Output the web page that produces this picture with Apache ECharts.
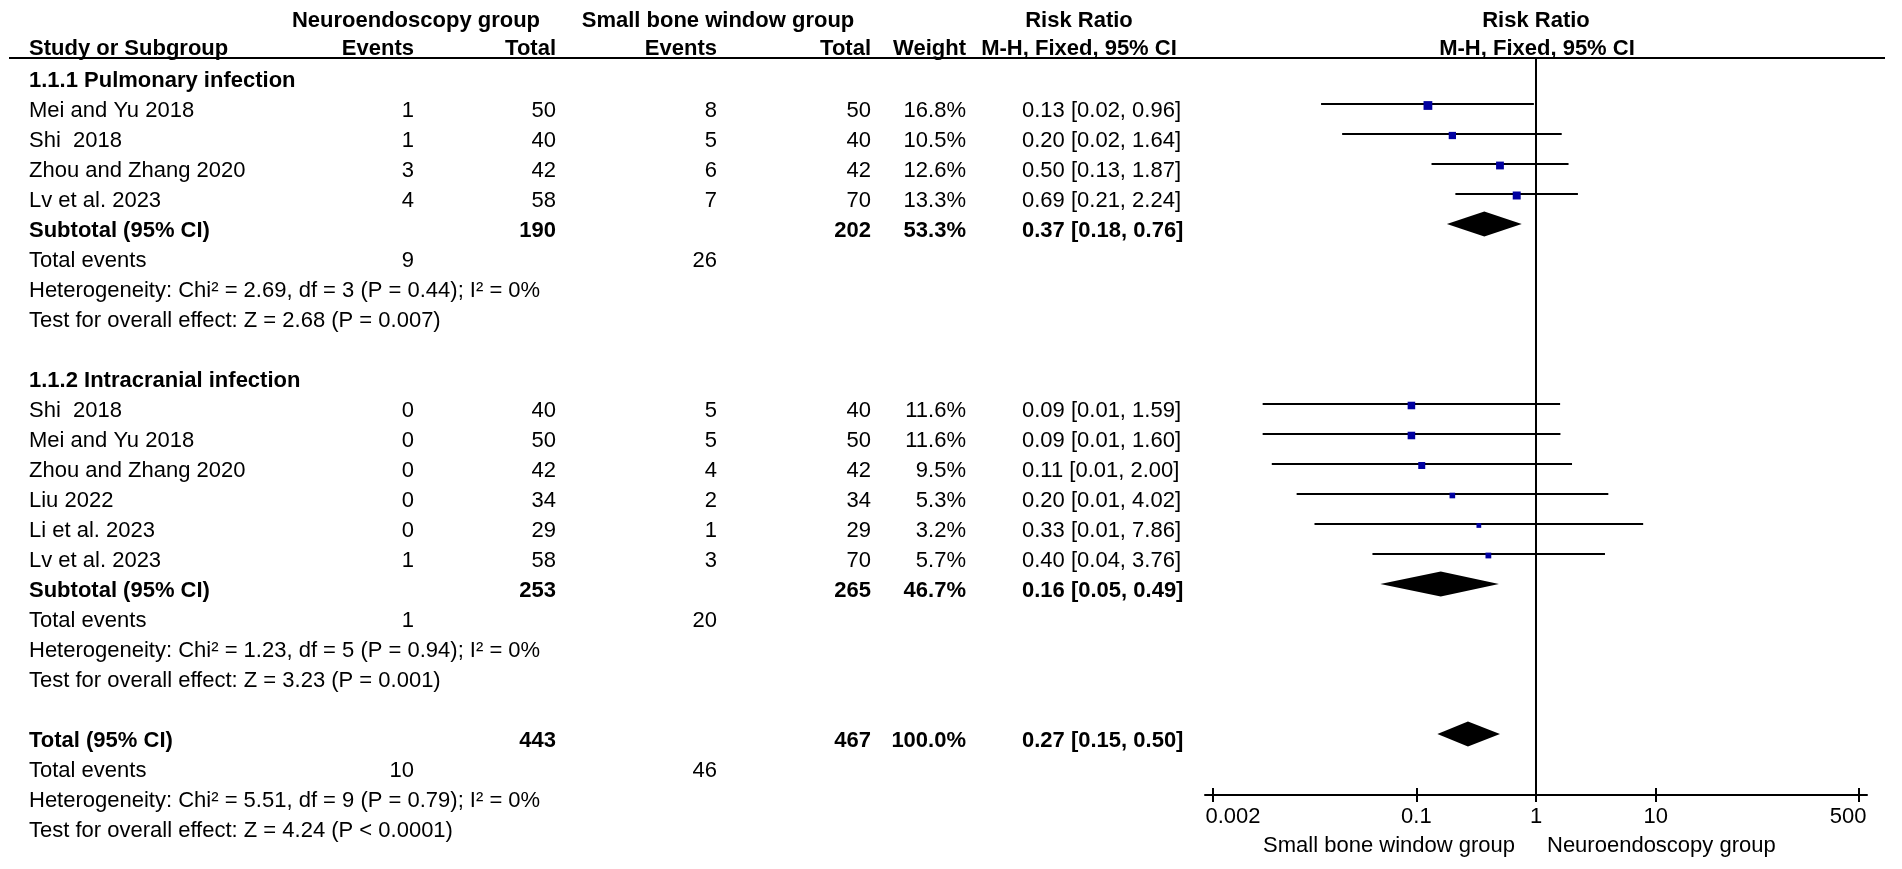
<!DOCTYPE html>
<html><head><meta charset="utf-8">
<script src="https://cdn.jsdelivr.net/npm/echarts@6/dist/echarts.min.js"></script>
<style>html,body{margin:0;padding:0;background:#fff}#c{width:1902px;height:869px}</style>
</head><body><div id="c"></div>
<script>
// ---------------- data ----------------
const group1Title = '1.1.1 Pulmonary infection';
const group1Studies = ['Mei and Yu 2018', 'Shi  2018', 'Zhou and Zhang 2020', 'Lv et al. 2023'];
const group1NeEvents = [1, 1, 3, 4];
const group1NeTotal = [50, 40, 42, 58];
const group1SbEvents = [8, 5, 6, 7];
const group1SbTotal = [50, 40, 42, 70];
const group1Weight = [16.8, 10.5, 12.6, 13.3];
const group1CiText = ['0.13 [0.02, 0.96]', '0.20 [0.02, 1.64]', '0.50 [0.13, 1.87]', '0.69 [0.21, 2.24]'];
const group1Rr = [0.125, 0.20, 0.50, 0.69];
const group1Lo = [0.016, 0.024, 0.134, 0.212];
const group1Hi = [0.96, 1.64, 1.87, 2.24];

const group2Title = '1.1.2 Intracranial infection';
const group2Studies = ['Shi  2018', 'Mei and Yu 2018', 'Zhou and Zhang 2020', 'Liu 2022', 'Li et al. 2023', 'Lv et al. 2023'];
const group2NeEvents = [0, 0, 0, 0, 0, 1];
const group2NeTotal = [40, 50, 42, 34, 29, 58];
const group2SbEvents = [5, 5, 4, 2, 1, 3];
const group2SbTotal = [40, 50, 42, 34, 29, 70];
const group2Weight = [11.6, 11.6, 9.5, 5.3, 3.2, 5.7];
const group2CiText = ['0.09 [0.01, 1.59]', '0.09 [0.01, 1.60]', '0.11 [0.01, 2.00]', '0.20 [0.01, 4.02]', '0.33 [0.01, 7.86]', '0.40 [0.04, 3.76]'];
const group2Rr = [0.091, 0.091, 0.111, 0.20, 0.333, 0.40];
const group2Lo = [0.0052, 0.0052, 0.0062, 0.010, 0.0141, 0.043];
const group2Hi = [1.59, 1.60, 2.00, 4.02, 7.86, 3.77];

const subtotalNeTotal = [190, 253];
const subtotalSbTotal = [202, 265];
const subtotalWeight = [53.3, 46.7];
const subtotalCiText = ['0.37 [0.18, 0.76]', '0.16 [0.05, 0.49]'];
const subtotalRr = [0.37, 0.16];
const subtotalLo = [0.18, 0.05];
const subtotalHi = [0.76, 0.49];
const subtotalEventsNe = [9, 1];
const subtotalEventsSb = [26, 20];
const subtotalHeterogeneity = [
  'Heterogeneity: Chi\u00b2 = 2.69, df = 3 (P = 0.44); I\u00b2 = 0%',
  'Heterogeneity: Chi\u00b2 = 1.23, df = 5 (P = 0.94); I\u00b2 = 0%'
];
const subtotalEffect = [
  'Test for overall effect: Z = 2.68 (P = 0.007)',
  'Test for overall effect: Z = 3.23 (P = 0.001)'
];

const overallNeTotal = 443;
const overallSbTotal = 467;
const overallWeight = 100.0;
const overallCiText = '0.27 [0.15, 0.50]';
const overallRr = 0.27;
const overallLo = 0.15;
const overallHi = 0.50;
const overallEventsNe = 10;
const overallEventsSb = 46;
const overallHeterogeneity = 'Heterogeneity: Chi\u00b2 = 5.51, df = 9 (P = 0.79); I\u00b2 = 0%';
const overallEffect = 'Test for overall effect: Z = 4.24 (P < 0.0001)';

const tickValues = [0.002, 0.1, 1, 10, 500];
const tickLabels = ['0.002', '0.1', '1', '10', '500'];
const favoursLeft = 'Small bone window group';
const favoursRight = 'Neuroendoscopy group';

// ---------------- layout ----------------
const FONT = "'Liberation Sans', Arial, sans-serif";
const FS = 22;
const BODY_DY = 7, HEAD_DY = 1;
const GRID_TOP = 44, GRID_BOTTOM = 74;
const Y_MIN = -1, Y_MAX = 24.0333;
const HEADER_LINE_R = -0.533;
const COL = { label: 29, neEv: 414, neTot: 556, sbEv: 717, sbTot: 871, weight: 966, ci: 1022, rrHead: 1079 };
const PLOT_LEFT = 1205, PLOT_RIGHT = 35;
const X_MIN = 0.001715, X_MAX = 583.1;

const cells = [];
function cell(x, r, text, align, bold, dy) {
  cells.push({ x, r, text: String(text), align, bold: !!bold, dy: dy === undefined ? BODY_DY : dy });
}

// headers
cell(416, -1.8, 'Neuroendoscopy group', 'center', true, HEAD_DY);
cell(718, -1.8, 'Small bone window group', 'center', true, HEAD_DY);
cell(COL.rrHead, -1.8, 'Risk Ratio', 'center', true, HEAD_DY);
cell(1536, -1.8, 'Risk Ratio', 'center', true, HEAD_DY);
cell(COL.label, -0.867, 'Study or Subgroup', 'left', true, HEAD_DY);
cell(COL.neEv, -0.867, 'Events', 'right', true, HEAD_DY);
cell(COL.neTot, -0.867, 'Total', 'right', true, HEAD_DY);
cell(COL.sbEv, -0.867, 'Events', 'right', true, HEAD_DY);
cell(COL.sbTot, -0.867, 'Total', 'right', true, HEAD_DY);
cell(COL.weight, -0.867, 'Weight', 'right', true, HEAD_DY);
cell(COL.rrHead, -0.867, 'M-H, Fixed, 95% CI', 'center', true, HEAD_DY);
cell(1537, -0.867, 'M-H, Fixed, 95% CI', 'center', true, HEAD_DY);

const studyMarks = [];
const diamondMarks = [];
const groups = [
  { title: group1Title, studies: group1Studies, neEv: group1NeEvents, neTot: group1NeTotal, sbEv: group1SbEvents, sbTot: group1SbTotal, w: group1Weight, ci: group1CiText, rr: group1Rr, lo: group1Lo, hi: group1Hi },
  { title: group2Title, studies: group2Studies, neEv: group2NeEvents, neTot: group2NeTotal, sbEv: group2SbEvents, sbTot: group2SbTotal, w: group2Weight, ci: group2CiText, rr: group2Rr, lo: group2Lo, hi: group2Hi }
];
let r = 0;
groups.forEach((g, gi) => {
  cell(COL.label, r, g.title, 'left', true); r++;
  g.studies.forEach((s, i) => {
    cell(COL.label, r, s, 'left');
    cell(COL.neEv, r, g.neEv[i], 'right');
    cell(COL.neTot, r, g.neTot[i], 'right');
    cell(COL.sbEv, r, g.sbEv[i], 'right');
    cell(COL.sbTot, r, g.sbTot[i], 'right');
    cell(COL.weight, r, g.w[i].toFixed(1) + '%', 'right');
    cell(COL.ci, r, g.ci[i], 'left');
    studyMarks.push([g.rr[i], r, g.lo[i], g.hi[i], g.w[i]]);
    r++;
  });
  cell(COL.label, r, 'Subtotal (95% CI)', 'left', true);
  cell(COL.neTot, r, subtotalNeTotal[gi], 'right', true);
  cell(COL.sbTot, r, subtotalSbTotal[gi], 'right', true);
  cell(COL.weight, r, subtotalWeight[gi].toFixed(1) + '%', 'right', true);
  cell(COL.ci, r, subtotalCiText[gi], 'left', true);
  diamondMarks.push([subtotalRr[gi], r, subtotalLo[gi], subtotalHi[gi]]);
  r++;
  cell(COL.label, r, 'Total events', 'left');
  cell(COL.neEv, r, subtotalEventsNe[gi], 'right');
  cell(COL.sbEv, r, subtotalEventsSb[gi], 'right');
  r++;
  cell(COL.label, r, subtotalHeterogeneity[gi], 'left'); r++;
  cell(COL.label, r, subtotalEffect[gi], 'left'); r++;
  r++; // blank line
});
cell(COL.label, r, 'Total (95% CI)', 'left', true);
cell(COL.neTot, r, overallNeTotal, 'right', true);
cell(COL.sbTot, r, overallSbTotal, 'right', true);
cell(COL.weight, r, overallWeight.toFixed(1) + '%', 'right', true);
cell(COL.ci, r, overallCiText, 'left', true);
diamondMarks.push([overallRr, r, overallLo, overallHi]);
r++;
cell(COL.label, r, 'Total events', 'left');
cell(COL.neEv, r, overallEventsNe, 'right');
cell(COL.sbEv, r, overallEventsSb, 'right');
r++;
cell(COL.label, r, overallHeterogeneity, 'left'); r++;
cell(COL.label, r, overallEffect, 'left'); r++;

// favours labels under the axis
cell(1515, 25.73, favoursLeft, 'right', false, 0);
cell(1547, 25.73, favoursRight, 'left', false, 0);

function fmtTick(v) {
  let idx = tickValues.findIndex(t => Math.abs(Math.log10(t) - Math.log10(v)) < 1e-6);
  if (idx < 0) return '';
  const s = tickLabels[idx];
  if (idx === 0) return '{first|' + s + '}';
  if (idx === tickValues.length - 1) return '{last|' + s + '}';
  return s;
}

const chart = echarts.init(document.getElementById('c'), null, { renderer: 'canvas' });
const option = {
  animation: false,
  backgroundColor: '#fff',
  grid: [
    { left: 0, right: 0, top: GRID_TOP, bottom: GRID_BOTTOM },
    { left: PLOT_LEFT, right: PLOT_RIGHT, top: GRID_TOP, bottom: GRID_BOTTOM }
  ],
  xAxis: [
    { gridIndex: 0, type: 'value', min: 0, max: 1902, show: false },
    {
      gridIndex: 1, type: 'log', logBase: 10, min: X_MIN, max: X_MAX, position: 'bottom',
      axisLine: { show: true, onZero: false, lineStyle: { color: '#000', width: 2 } },
      axisTick: { show: true, customValues: tickValues, length: 7, inside: false, lineStyle: { color: '#000', width: 2 } },
      axisLabel: {
        show: true, customValues: tickValues, margin: 11, color: '#000', fontSize: FS, fontFamily: FONT,
        formatter: fmtTick,
        rich: {
          first: { padding: [0, 0, 0, 40], fontSize: FS, fontFamily: FONT, color: '#000' },
          last: { padding: [0, 22, 0, 0], fontSize: FS, fontFamily: FONT, color: '#000' }
        }
      },
      splitLine: { show: false }, minorTick: { show: false }
    },
    {
      gridIndex: 1, type: 'log', logBase: 10, min: X_MIN, max: X_MAX, position: 'bottom',
      axisLine: { show: false, onZero: false },
      axisTick: { show: true, customValues: tickValues, length: 7, inside: true, lineStyle: { color: '#000', width: 2 } },
      axisLabel: { show: false }, splitLine: { show: false }
    }
  ],
  yAxis: [
    { gridIndex: 0, type: 'value', inverse: true, min: Y_MIN, max: Y_MAX, show: false },
    { gridIndex: 1, type: 'value', inverse: true, min: Y_MIN, max: Y_MAX, show: false }
  ],
  series: [
    { // header rule
      type: 'line', xAxisIndex: 0, yAxisIndex: 0, symbol: 'none', silent: true,
      data: [[9, HEADER_LINE_R], [1885, HEADER_LINE_R]],
      lineStyle: { color: '#000', width: 2 }
    },
    { // line of no effect
      type: 'line', xAxisIndex: 1, yAxisIndex: 1, symbol: 'none', silent: true,
      data: [[1, HEADER_LINE_R], [1, Y_MAX]],
      lineStyle: { color: '#000', width: 2 }
    },
    { // study CIs and squares
      type: 'custom', xAxisIndex: 1, yAxisIndex: 1, silent: true,
      data: studyMarks,
      renderItem: function (params, api) {
        const c = api.coord([api.value(0), api.value(1)]);
        const a = api.coord([api.value(2), api.value(1)]);
        const b = api.coord([api.value(3), api.value(1)]);
        const s = 1.6 + 1.75 * Math.sqrt(api.value(4));
        return {
          type: 'group', children: [
            { type: 'line', shape: { x1: a[0], y1: a[1], x2: b[0], y2: b[1] }, style: { stroke: '#000', lineWidth: 2 } },
            { type: 'rect', shape: { x: c[0] - s / 2, y: c[1] - s / 2 + 1.5, width: s, height: s }, style: { fill: '#0000a0' } }
          ]
        };
      }
    },
    { // pooled diamonds
      type: 'custom', xAxisIndex: 1, yAxisIndex: 1, silent: true,
      data: diamondMarks,
      renderItem: function (params, api) {
        const c = api.coord([api.value(0), api.value(1)]);
        const a = api.coord([api.value(2), api.value(1)]);
        const b = api.coord([api.value(3), api.value(1)]);
        const h = 12.5;
        return {
          type: 'polygon',
          shape: { points: [[a[0], a[1]], [c[0], c[1] - h], [b[0], b[1]], [c[0], c[1] + h]] },
          style: { fill: '#000' }
        };
      }
    },
    { // table text
      type: 'custom', xAxisIndex: 0, yAxisIndex: 0, silent: true,
      data: cells.map((c, i) => [c.x, c.r, i]),
      renderItem: function (params, api) {
        const c = cells[params.dataIndex];
        const p = api.coord([c.x, c.r]);
        return {
          type: 'text', x: p[0], y: p[1] + c.dy,
          style: {
            text: c.text, fill: '#000',
            font: (c.bold ? 'bold ' : '') + FS + 'px ' + FONT,
            align: c.align, verticalAlign: 'middle'
          }
        };
      }
    }
  ]
};
chart.setOption(option);
</script>
</body></html>
